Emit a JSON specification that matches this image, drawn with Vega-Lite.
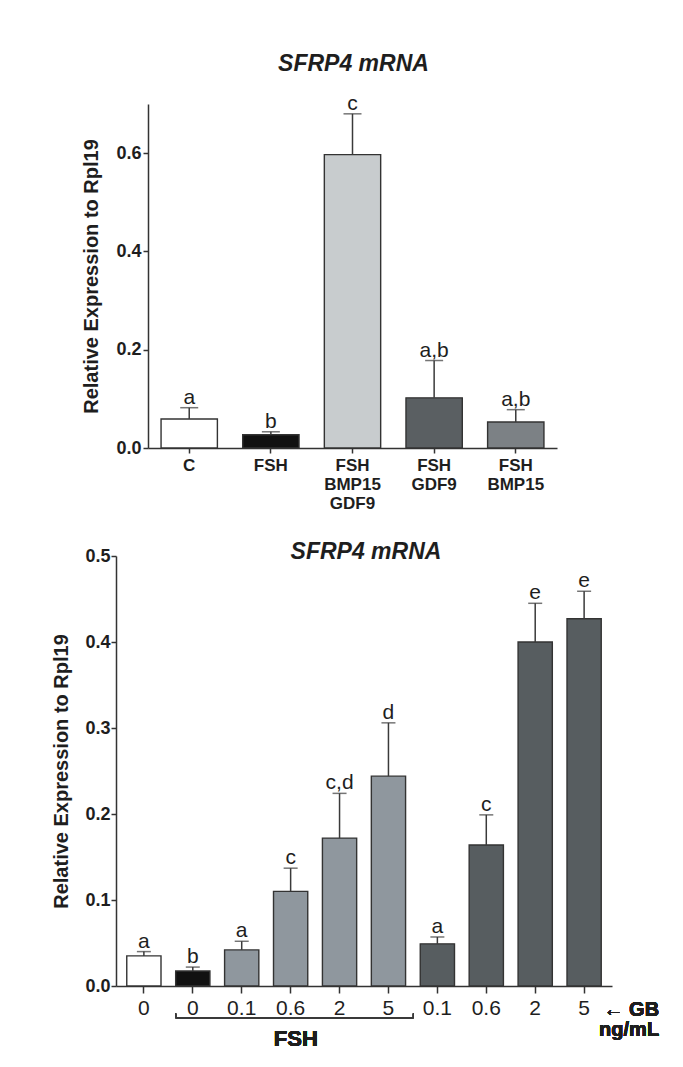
{
  "$schema": "https://vega.github.io/schema/vega-lite/v6.json",
  "background": "white",
  "padding": {"left": 51, "top": 52, "right": 5, "bottom": 5},
  "config": {
    "font": "Liberation Sans",
    "view": {"stroke": null},
    "axis": {"domainColor": "#333333", "tickColor": "#333333", "labelColor": "#1e1e1e", "titleColor": "#1e1e1e", "grid": false, "domainWidth": 1.5, "tickWidth": 1.5}
  },
  "resolve": {"scale": {"fill": "independent", "x": "independent", "y": "independent"}},
  "spacing": 30,
  "vconcat": [
    {
      "width": 441,
      "height": 344,
      "title": {"text": "SFRP4 mRNA", "fontSize": 23, "fontStyle": "italic", "fontWeight": "bold", "baseline": "alphabetic", "offset": -1, "anchor": "middle", "dx": 17, "color": "#1e1e1e"},
      "data": {"values": [
        {"group": "C", "value": 0.059, "upper": 0.082, "letter": "a"},
        {"group": "FSH", "value": 0.027, "upper": 0.033, "letter": "b"},
        {"group": "FSH BMP15 GDF9", "value": 0.597, "upper": 0.68, "letter": "c"},
        {"group": "FSH GDF9", "value": 0.102, "upper": 0.178, "letter": "a,b"},
        {"group": "FSH BMP15", "value": 0.053, "upper": 0.078, "letter": "a,b"}
      ]},
      "encoding": {
        "x": {"field": "group", "type": "nominal", "sort": ["C", "FSH", "FSH BMP15 GDF9", "FSH GDF9", "FSH BMP15"],
          "scale": {"range": [32, 441], "paddingInner": 0.31, "paddingOuter": 0.16},
          "axis": {"title": null, "labelAngle": 0, "labelFontSize": 17, "labelFontWeight": "bold", "labelExpr": "split(datum.label, ' ')", "labelLineHeight": 19, "tickSize": 5, "labelPadding": 4}
        }
      },
      "layer": [
        {
          "mark": {"type": "bar", "stroke": "#333333", "strokeWidth": 1.4},
          "encoding": {
            "y": {"field": "value", "type": "quantitative", "scale": {"domain": [0, 0.7], "nice": false},
              "axis": {"values": [0, 0.2, 0.4, 0.6], "format": ".1f", "labelFontSize": 18, "labelFontWeight": "bold", "title": "Relative Expression to Rpl19", "titleFontSize": 20, "titleFontWeight": "bold", "titlePadding": 14, "offset": -32, "tickSize": 5, "labelPadding": 2}},
            "fill": {"field": "group", "type": "nominal", "legend": null,
              "scale": {"domain": ["C", "FSH", "FSH BMP15 GDF9", "FSH GDF9", "FSH BMP15"], "range": ["#ffffff", "#111111", "#c8ccce", "#5a5f62", "#7c8185"]}}
          }
        },
        {
          "mark": {"type": "rule", "color": "#3a3a3a", "strokeWidth": 1.5},
          "encoding": {"y": {"field": "value", "type": "quantitative"}, "y2": {"field": "upper"}}
        },
        {
          "mark": {"type": "tick", "color": "#3a3a3a", "size": 18, "thickness": 1.5},
          "encoding": {"y": {"field": "upper", "type": "quantitative"}}
        },
        {
          "mark": {"type": "text", "fontSize": 21, "baseline": "alphabetic", "dy": -4, "color": "#1e1e1e"},
          "encoding": {"y": {"field": "upper", "type": "quantitative"}, "text": {"field": "letter"}}
        }
      ]
    },
    {
      "width": 496,
      "height": 430,
      "title": {"text": "SFRP4 mRNA", "fontSize": 23, "fontStyle": "italic", "fontWeight": "bold", "baseline": "alphabetic", "offset": -35, "anchor": "middle", "dx": 2, "color": "#1e1e1e"},
      "data": {"values": [
        {"id": "0C", "treat": "Control", "value": 0.035, "upper": 0.040, "letter": "a"},
        {"id": "0F", "treat": "FSH", "value": 0.0174, "upper": 0.022, "letter": "b"},
        {"id": "0.1F", "treat": "FSH+GB", "value": 0.042, "upper": 0.052, "letter": "a"},
        {"id": "0.6F", "treat": "FSH+GB", "value": 0.110, "upper": 0.137, "letter": "c"},
        {"id": "2F", "treat": "FSH+GB", "value": 0.172, "upper": 0.224, "letter": "c,d"},
        {"id": "5F", "treat": "FSH+GB", "value": 0.244, "upper": 0.306, "letter": "d"},
        {"id": "0.1G", "treat": "GB", "value": 0.049, "upper": 0.057, "letter": "a"},
        {"id": "0.6G", "treat": "GB", "value": 0.164, "upper": 0.199, "letter": "c"},
        {"id": "2G", "treat": "GB", "value": 0.400, "upper": 0.445, "letter": "e"},
        {"id": "5G", "treat": "GB", "value": 0.427, "upper": 0.459, "letter": "e"}
      ]},
      "encoding": {
        "x": {"field": "id", "type": "nominal", "sort": ["0C", "0F", "0.1F", "0.6F", "2F", "5F", "0.1G", "0.6G", "2G", "5G"],
          "scale": {"paddingInner": 0.3, "paddingOuter": 0.22},
          "axis": {"title": null, "labelAngle": 0, "labelFontSize": 21, "labelExpr": "replace(replace(replace(datum.label, 'C', ''), 'F', ''), 'G', '')", "tickSize": 7, "labelPadding": 4}
        }
      },
      "layer": [
        {
          "mark": {"type": "bar", "stroke": "#333333", "strokeWidth": 1.4},
          "encoding": {
            "y": {"field": "value", "type": "quantitative", "scale": {"domain": [0, 0.5], "nice": false},
              "axis": {"values": [0, 0.1, 0.2, 0.3, 0.4, 0.5], "format": ".1f", "labelFontSize": 18, "labelFontWeight": "bold", "title": "Relative Expression to Rpl19", "titleFontSize": 20, "titleFontWeight": "bold", "titlePadding": 13, "tickSize": 5, "labelPadding": 1}},
            "fill": {"field": "treat", "type": "nominal", "legend": null,
              "scale": {"domain": ["Control", "FSH", "FSH+GB", "GB"], "range": ["#ffffff", "#111111", "#8f979e", "#575d60"]}}
          }
        },
        {
          "mark": {"type": "rule", "color": "#3a3a3a", "strokeWidth": 1.5},
          "encoding": {"y": {"field": "value", "type": "quantitative"}, "y2": {"field": "upper"}}
        },
        {
          "mark": {"type": "tick", "color": "#3a3a3a", "size": 14, "thickness": 1.5},
          "encoding": {"y": {"field": "upper", "type": "quantitative"}}
        },
        {
          "mark": {"type": "text", "fontSize": 21, "baseline": "alphabetic", "dy": -4, "color": "#1e1e1e"},
          "encoding": {"y": {"field": "upper", "type": "quantitative"}, "text": {"field": "letter"}}
        },
        {
          "mark": {"type": "rule", "color": "#3a3a3a", "strokeWidth": 1.2},
          "encoding": {"x": {"datum": "0F", "bandPosition": 0}, "x2": {"datum": "0.1G", "bandPosition": -0.2}, "y": {"datum": -0.037}}
        },
        {
          "mark": {"type": "rule", "color": "#3a3a3a", "strokeWidth": 1.2},
          "encoding": {"x": {"datum": "0F", "bandPosition": 0}, "y": {"datum": -0.037}, "y2": {"datum": -0.032}}
        },
        {
          "mark": {"type": "rule", "color": "#3a3a3a", "strokeWidth": 1.2},
          "encoding": {"x": {"datum": "0.1G", "bandPosition": -0.2}, "y": {"datum": -0.037}, "y2": {"datum": -0.032}}
        },
        {
          "mark": {"type": "text", "fontSize": 22, "fontWeight": "bold", "baseline": "alphabetic", "color": "#1e1e1e"},
          "encoding": {"x": {"datum": "0.6F", "bandPosition": 0.65}, "y": {"datum": -0.0698}, "text": {"value": "FSH"}}
        },
        {
          "mark": {"type": "text", "fontSize": 20, "fontWeight": "bold", "baseline": "alphabetic", "align": "right", "dx": 75, "lineHeight": 20, "color": "#1e1e1e"},
          "encoding": {"x": {"datum": "5G"}, "y": {"datum": -0.0349}, "text": {"value": ["← GB", "ng/mL"]}}
        }
      ]
    }
  ]
}
